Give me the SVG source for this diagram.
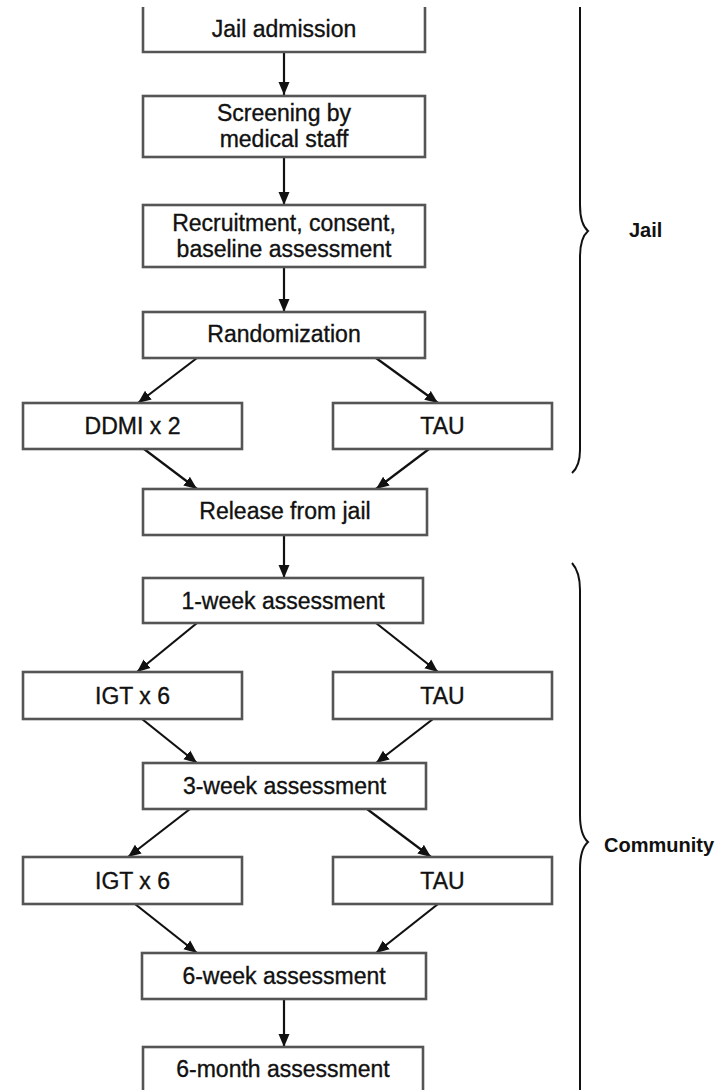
<svg xmlns="http://www.w3.org/2000/svg" width="716" height="1090" viewBox="0 0 716 1090">
<defs>
<style>
.box{fill:#fff;stroke:#555;stroke-width:2.6}
.t{font-family:"Liberation Sans",Arial,sans-serif;font-size:23px;fill:#111;stroke:#111;stroke-width:0.35;text-anchor:middle}
.lbl{font-family:"Liberation Sans",Arial,sans-serif;font-size:20px;font-weight:bold;fill:#111}
.c{fill:none;stroke:#111;stroke-width:2.2}
.br{fill:none;stroke:#111;stroke-width:2}
</style>
<marker id="ah" markerUnits="userSpaceOnUse" markerWidth="14" markerHeight="12" refX="13" refY="6" orient="auto">
<path d="M0,0.5 L13,6 L0,11.5 z" fill="#111"/>
</marker>
</defs>
<rect width="716" height="1090" fill="#fff"/>

<g id="connectors">
<line class="c" x1="284" y1="52" x2="284" y2="95" marker-end="url(#ah)"/>
<line class="c" x1="284" y1="157" x2="284" y2="205" marker-end="url(#ah)"/>
<line class="c" x1="284" y1="267" x2="284" y2="312" marker-end="url(#ah)"/>
<line class="c" x1="197" y1="358" x2="138" y2="403" marker-end="url(#ah)"/>
<line class="c" x1="376" y1="358" x2="438" y2="403" marker-end="url(#ah)"/>
<line class="c" x1="144" y1="449" x2="197" y2="489" marker-end="url(#ah)"/>
<line class="c" x1="429" y1="449" x2="376" y2="489" marker-end="url(#ah)"/>
<line class="c" x1="284" y1="535" x2="284" y2="578" marker-end="url(#ah)"/>
<line class="c" x1="197" y1="623" x2="137" y2="672" marker-end="url(#ah)"/>
<line class="c" x1="376" y1="623" x2="438" y2="672" marker-end="url(#ah)"/>
<line class="c" x1="142" y1="719" x2="197" y2="763" marker-end="url(#ah)"/>
<line class="c" x1="433" y1="719" x2="376" y2="763" marker-end="url(#ah)"/>
<line class="c" x1="190" y1="809" x2="128" y2="857" marker-end="url(#ah)"/>
<line class="c" x1="367" y1="809" x2="431" y2="857" marker-end="url(#ah)"/>
<line class="c" x1="135" y1="904" x2="197" y2="953" marker-end="url(#ah)"/>
<line class="c" x1="438" y1="904" x2="376" y2="953" marker-end="url(#ah)"/>
<line class="c" x1="284" y1="999" x2="284" y2="1047" marker-end="url(#ah)"/>
</g>

<g id="n-jail-admission">
<path class="box" d="M143,7 V52 H425 V7"/>
<text class="t" x="284" y="37">Jail admission</text>
</g>
<g id="n-screening">
<rect class="box" x="143" y="96" width="282" height="61"/>
<text class="t" x="284" y="121">Screening by</text>
<text class="t" x="284" y="147">medical staff</text>
</g>
<g id="n-recruitment">
<rect class="box" x="143" y="205" width="282" height="62"/>
<text class="t" x="284" y="231">Recruitment, consent,</text>
<text class="t" x="284" y="257">baseline assessment</text>
</g>
<g id="n-randomization">
<rect class="box" x="143" y="312" width="282" height="46"/>
<text class="t" x="284" y="342">Randomization</text>
</g>
<g id="n-ddmi">
<rect class="box" x="23" y="403" width="219" height="46"/>
<text class="t" x="132.5" y="434">DDMI x 2</text>
</g>
<g id="n-tau1">
<rect class="box" x="333" y="403" width="219" height="46"/>
<text class="t" x="442.5" y="434">TAU</text>
</g>
<g id="n-release">
<rect class="box" x="143" y="489" width="284" height="46"/>
<text class="t" x="285" y="519">Release from jail</text>
</g>
<g id="n-1week">
<rect class="box" x="143" y="578" width="280" height="45"/>
<text class="t" x="283" y="609">1-week assessment</text>
</g>
<g id="n-igt1">
<rect class="box" x="23" y="672" width="219" height="47"/>
<text class="t" x="132.5" y="704">IGT x 6</text>
</g>
<g id="n-tau2">
<rect class="box" x="333" y="672" width="219" height="47"/>
<text class="t" x="442.5" y="704">TAU</text>
</g>
<g id="n-3week">
<rect class="box" x="143" y="763" width="283" height="46"/>
<text class="t" x="284.5" y="794">3-week assessment</text>
</g>
<g id="n-igt2">
<rect class="box" x="23" y="857" width="219" height="47"/>
<text class="t" x="132.5" y="889">IGT x 6</text>
</g>
<g id="n-tau3">
<rect class="box" x="333" y="857" width="219" height="47"/>
<text class="t" x="442.5" y="889">TAU</text>
</g>
<g id="n-6week">
<rect class="box" x="142" y="953" width="284" height="46"/>
<text class="t" x="284" y="984">6-week assessment</text>
</g>
<g id="n-6month">
<rect class="box" x="143" y="1047" width="280" height="48"/>
<text class="t" x="283" y="1077">6-month assessment</text>
</g>

<g id="brace-jail">
<path class="br" d="M580,7 V205 Q580,224 588,231 Q580,238 580,257 V450 Q580,466 572,473"/>
<text class="lbl" x="629" y="237">Jail</text>
</g>
<g id="brace-community">
<path class="br" d="M572,563 Q580,572 580,590 V815 Q580,835 588,842 Q580,849 580,869 V1090"/>
<text class="lbl" x="604" y="852">Community</text>
</g>
</svg>
